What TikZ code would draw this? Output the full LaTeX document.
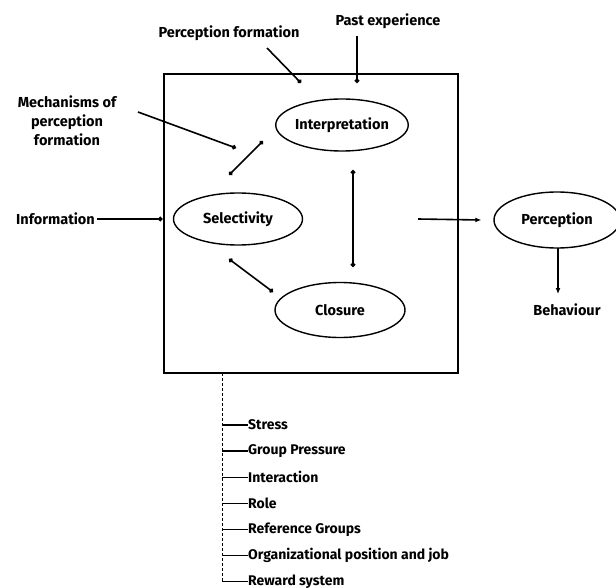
\documentclass[tikz,border=0pt]{standalone}
\usepackage{fontspec}
\setmainfont{Fira Sans}
\usetikzlibrary{shapes.geometric,arrows.meta}
\begin{document}
\begin{tikzpicture}[x=1pt,y=-1pt,
  font=\fontsize{14.5}{16}\selectfont\bfseries,
  every node/.style={inner sep=0pt},
  oval/.style={draw,ellipse,line width=1.4pt,minimum width=130pt,minimum height=52pt},
  link/.style={line width=1.6pt},
  dot/.style={link,-{Circle[length=4.5pt]}},
  dots/.style={link,{Circle[length=4.5pt]}-{Circle[length=4.5pt]}},
  tip/.style={link,-{Latex[length=6pt,width=5pt]}},
  label/.style={anchor=center,align=center},
  item/.style={anchor=west,font=\fontsize{14}{16}\selectfont\bfseries}]
\useasboundingbox (0,0) rectangle (616,588);

% central frame
\node[draw,line width=2pt,minimum width=294pt,minimum height=299pt] (box) at (310.5,223.5) {};

% processes inside the frame
\node[oval] (interp) at (342,125) {Interpretation};
\node[oval,minimum width=129pt] (select) at (238,219) {Selectivity};
\node[oval,minimum height=55pt] (closure) at (340,310) {Closure};
\node[oval,minimum width=126pt,minimum height=56pt] (percep) at (557,220) {Perception};

% outside labels
\node[label] (pform) at (229,33) {Perception formation};
\node[label] (past) at (388,21) {Past experience};
\node[label,anchor=east] (info) at (95,219) {Information};
\node[label] (mech) at (67,121) {Mechanisms of\\[3pt]perception\\[3pt]formation};
\node[label] (behav) at (567,310) {Behaviour};

% free ends of the connectors
\coordinate (pfA) at (267,48);   \coordinate (pfB) at (301,83);
\coordinate (peA) at (357,36);   \coordinate (peB) at (357,83);
\coordinate (meA) at (138,112);  \coordinate (meB) at (236,148);
\coordinate (inB) at (box.west |- info);
\coordinate (siA) at (229,175);  \coordinate (siB) at (263,141);
\coordinate (scA) at (229,259);  \coordinate (scB) at (273,292);
\coordinate (icA) at (353,170);  \coordinate (icB) at (353,267);
\coordinate (outA) at (418,219); \coordinate (outB) at (percep.west);
\coordinate (bhA) at (558,248);  \coordinate (bhB) at (558,294);

% connectors
\draw[dot] (pfA) -- (pfB);
\draw[dot] (peA) -- (peB);
\draw[dot] (meA) -- (meB);
\draw[dot] ([xshift=2pt]info.east) -- (inB);
\draw[dots] (siA) -- (siB);
\draw[dots] (scA) -- (scB);
\draw[dots] (icA) -- (icB);
\draw[tip] (outA) -- ([xshift=-12pt]outB);
\draw[tip] (bhA) -- (bhB);

% influencing factors below the frame
\coordinate (spineTop) at (222,373);
\coordinate (spineEnd) at (222,582);
\draw[line width=0.6pt,densely dashed] (spineTop) -- (spineEnd);
\foreach \t [count=\i] in {Stress,Group Pressure,Interaction,Role,Reference Groups,Organizational position and job,Reward system}{
  \node[item] (f\i) at (248,{425+26.1*(\i-1)}) {\t};
  \draw[line width=1.4pt] (spineTop |- f\i.west) -- (f\i.west);
}
\end{tikzpicture}
\end{document}
